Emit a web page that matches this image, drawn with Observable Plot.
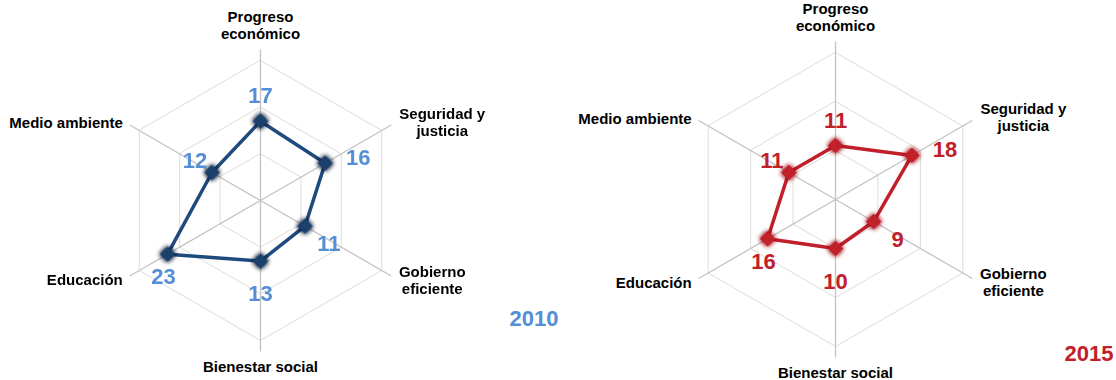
<!DOCTYPE html>
<html><head><meta charset="utf-8">
<script src="https://cdn.jsdelivr.net/npm/d3@7"></script>
<script src="https://cdn.jsdelivr.net/npm/@observablehq/plot@0.6"></script>
<style>
body{margin:0;background:#fff;}
#row{display:flex;width:1116px;height:380px;overflow:hidden;}
#row svg{display:block;}
</style></head><body><div id="row"></div>
<script>
// ---- data ----
const categories = ["Progreso\neconómico", "Seguridad y\njusticia", "Gobierno\neficiente", "Bienestar social", "Educación", "Medio ambiente"];
const values2010 = [17, 16, 11, 13, 23, 12];
const values2015 = [11, 18, 9, 10, 16, 11];
const ringTicks = [10, 20, 30];
const years = ["2010", "2015"];

// ---- layout (pixels) ----
const axisLabelOffsets = [
  {dx: 0, dy: -24, anchor: "middle"},
  {dx: 51, dy: -3, anchor: "middle"},
  {dx: 41, dy: 4, anchor: "middle"},
  {dx: 0, dy: 15, anchor: "middle"},
  {dx: -7, dy: 4, anchor: "end"},
  {dx: -7, dy: -2, anchor: "end"}
];
const valueLabelOffsets = [[0, -25], [33, -5], [24, 18], [0, 33], [-4, 23], [-17, -12]];

const FONT = "'Liberation Sans', Arial, sans-serif";

function radar(values, cfg) {
  const {W, H, cx, cy, ringPx, axisPx, color, dotColor, labelColor, year, yearDx, yearDy, id} = cfg;
  const maxTick = ringTicks[ringTicks.length - 1];
  const k = ringPx / maxTick;             // px per unit
  const axisLen = axisPx / k;
  const ang = i => i * Math.PI / 3;
  const pts = values.map((v, i) => ({i, v, x: v * Math.sin(ang(i)), y: v * Math.cos(ang(i))}));
  const rings = ringTicks.flatMap(t => categories.map((c, i) => ({t, x: t * Math.sin(ang(i)), y: t * Math.cos(ang(i))})));
  const spokes = categories.map((c, i) => ({c, i, x: axisLen * Math.sin(ang(i)), y: axisLen * Math.cos(ang(i))}));

  const marks = [
    Plot.line(rings, {x: "x", y: "y", z: "t", curve: "linear-closed", stroke: "#dcdcdc", strokeWidth: 1}),
    Plot.link(spokes, {x1: 0, y1: 0, x2: "x", y2: "y", stroke: "#c3c3c3", strokeWidth: 1.3}),
    Plot.line(pts, {x: "x", y: "y", curve: "linear-closed", stroke: color, strokeWidth: 3.5, strokeLinejoin: "round"}),
    Plot.dot(pts, {x: "x", y: "y", symbol: "diamond2", r: 6.5, fill: dotColor, stroke: dotColor, strokeWidth: 1}),
    Plot.text(pts, {
      x: d => d.x + valueLabelOffsets[d.i][0] / k,
      y: d => d.y - valueLabelOffsets[d.i][1] / k,
      text: d => String(d.v), fill: labelColor, fontSize: 22, fontWeight: "bold"
    })
  ];
  spokes.forEach((s, i) => {
    const o = axisLabelOffsets[i];
    marks.push(Plot.text([s], {
      x: "x", y: "y", text: "c", dx: o.dx, dy: o.dy, textAnchor: o.anchor,
      fill: "#000", fontSize: 15, fontWeight: "bold", lineHeight: 1.12
    }));
  });
  marks.push(Plot.text([year], {
    frameAnchor: "bottom-right", text: d => d, textAnchor: "end", dx: yearDx, dy: yearDy,
    fill: labelColor, fontSize: 22, fontWeight: "bold"
  }));

  const svg = Plot.plot({
    width: W, height: H, margin: 0,
    x: {domain: [-cx / k, (W - cx) / k], axis: null},
    y: {domain: [-(H - cy) / k, cy / k], axis: null},
    style: {fontFamily: FONT, background: "#fff", overflow: "visible"},
    marks
  });

  // soft glow behind the markers
  const ns = "http://www.w3.org/2000/svg";
  const defs = document.createElementNS(ns, "defs");
  defs.innerHTML = `<filter id="${id}" x="-100%" y="-100%" width="300%" height="300%">
    <feGaussianBlur in="SourceAlpha" stdDeviation="2.4" result="b"/>
    <feFlood flood-color="${cfg.glow}" flood-opacity="0.85"/>
    <feComposite in2="b" operator="in" result="g"/>
    <feMerge><feMergeNode in="g"/><feMergeNode in="g"/><feMergeNode in="SourceGraphic"/></feMerge>
  </filter>`;
  svg.insertBefore(defs, svg.firstChild);
  svg.querySelectorAll('g[aria-label="dot"]').forEach(g => g.setAttribute("filter", `url(#${id})`));
  return svg;
}

const row = document.getElementById("row");
row.append(radar(values2010, {
  W: 558, H: 380, cx: 260, cy: 200, ringPx: 140, axisPx: 151,
  color: "#1f4a7e", dotColor: "#1c3f6c", labelColor: "#558ed5", glow: "#0c1a2e",
  year: years[0], yearDx: 0, yearDy: -55, id: "glow2010"
}));
row.append(radar(values2015, {
  W: 558, H: 380, cx: 277, cy: 199, ringPx: 147, axisPx: 158,
  color: "#c1202b", dotColor: "#c1202b", labelColor: "#c1202b", glow: "#a0101a",
  year: years[1], yearDx: -3, yearDy: -20, id: "glow2015"
}));
</script>
</body></html>
